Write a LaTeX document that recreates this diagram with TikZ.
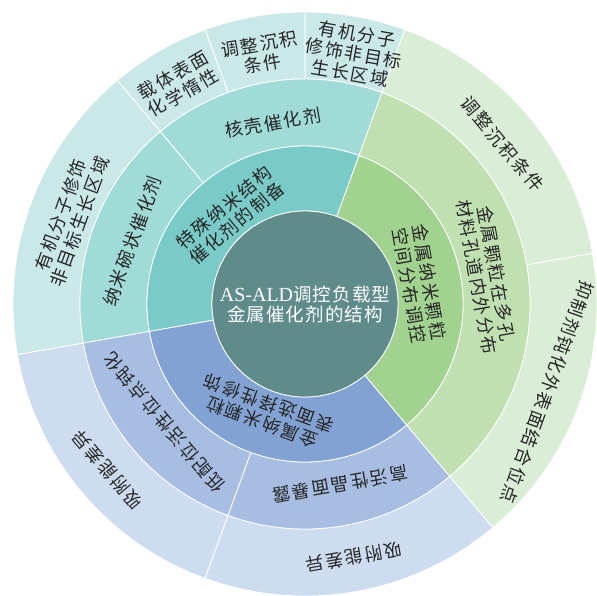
\documentclass[tikz,border=0pt]{standalone}
\usepackage{fontspec}
\setmainfont{Liberation Serif}
\newfontfamily\cjk[LetterSpace=10]{Noto Sans CJK SC}
\newfontfamily\cjkc[LetterSpace=6]{Noto Sans CJK SC}
\usetikzlibrary{calc}
\definecolor{cmid}{RGB}{95,139,139}
\definecolor{tealA}{RGB}{122,202,200}
\definecolor{tealB}{RGB}{161,219,216}
\definecolor{tealC}{RGB}{203,232,233}
\definecolor{greenA}{RGB}{162,210,143}
\definecolor{greenB}{RGB}{193,224,178}
\definecolor{greenC}{RGB}{218,237,214}
\definecolor{blueA}{RGB}{130,162,211}
\definecolor{blueB}{RGB}{167,190,226}
\definecolor{blueC}{RGB}{205,220,239}
\newcommand\sbsector[5]{%
  \fill[#5, draw=white, line width=0.8pt]
    ($(C)+(#3:#1)$) arc[start angle=#3, end angle=#4, radius=#1]
    -- ($(C)+(#4:#2)$) arc[start angle=#4, end angle=#3, radius=#2] -- cycle;}
\tikzset{
  lbl/.style={font=\cjk\fontsize{18}{20}\selectfont, align=center, text=black!85, inner sep=0pt},
}
\begin{document}
\begin{tikzpicture}[x=1pt,y=1pt]
\useasboundingbox (0,0) rectangle (597,-596);
\coordinate (C) at (305,-304);
% ring 3
\sbsector{225}{292}{70}{90}{tealC}
\sbsector{225}{292}{90}{110}{tealC}
\sbsector{225}{292}{110}{130}{tealC}
\sbsector{225}{292}{130}{190}{tealC}
\sbsector{225}{292}{10}{70}{greenC}
\sbsector{225}{292}{-50}{10}{greenC}
\sbsector{225}{292}{190}{250}{blueC}
\sbsector{225}{292}{250}{310}{blueC}
% ring 2
\sbsector{158}{225}{70}{130}{tealB}
\sbsector{158}{225}{130}{190}{tealB}
\sbsector{158}{225}{-50}{70}{greenB}
\sbsector{158}{225}{190}{250}{blueB}
\sbsector{158}{225}{250}{310}{blueB}
% ring 1
\sbsector{93}{158}{70}{190}{tealA}
\sbsector{93}{158}{-50}{70}{greenA}
\sbsector{93}{158}{190}{310}{blueA}
% centre
\node[circle, fill=cmid, draw=white, line width=0.8pt, minimum size=186pt, inner sep=0pt,
      align=center, text=white, font=\fontsize{20}{20}\selectfont] (ctr) at (C)
  {AS-ALD{\cjkc\fontsize{18.5}{20}\selectfont 调控负载型}\\{\cjkc\fontsize{18.5}{20}\selectfont 金属催化剂的结构}};
% ring 1 labels
\node[lbl, rotate=40] (a1) at ($(C)+(130:116)$) {特殊纳米结构\\催化剂的制备};
\node[lbl, rotate=-80] (a2) at ($(C)+(10:116)$) {金属纳米颗粒\\空间分布调控};
\node[lbl, rotate=160] (a3) at ($(C)+(250:116)$) {金属纳米颗粒\\表面选择性修饰};
% ring 2 labels
\node[lbl, rotate=10] (b1) at ($(C)+(100:184)$) {核壳催化剂};
\node[lbl, rotate=70] (b2) at ($(C)+(160:184)$) {纳米碗状催化剂};
\node[lbl, rotate=-80] (b3) at ($(C)+(9:184)$) {金属颗粒在多孔\\材料孔道内外分布};
\node[lbl, rotate=130] (b4) at ($(C)+(220:184)$) {低配位活性位点钝化};
\node[lbl, rotate=190] (b5) at ($(C)+(281:184)$) {高活性晶面暴露};
% ring 3 labels
\node[lbl, rotate=-10] (c1) at ($(C)+(79:255)$) {有机分子\\修饰非目标\\生长区域};
\node[lbl, rotate=10] (c2) at ($(C)+(100:254)$) {调整沉积\\条件};
\node[lbl, rotate=30] (c3) at ($(C)+(120:254)$) {载体表面\\化学惰性};
\node[lbl, rotate=70] (c4) at ($(C)+(160:250)$) {有机分子修饰\\非目标生长区域};
\node[lbl, rotate=-50] (c5) at ($(C)+(39:254)$) {调整沉积条件};
\node[lbl, rotate=-110] (c6) at ($(C)+(-20:258)$) {抑制剂钝化外表面结合位点};
\node[lbl, rotate=130] (c7) at ($(C)+(220:258)$) {吸附能差异};
\node[lbl, rotate=190] (c8) at ($(C)+(281:258)$) {吸附能差异};
\end{tikzpicture}
\end{document}
